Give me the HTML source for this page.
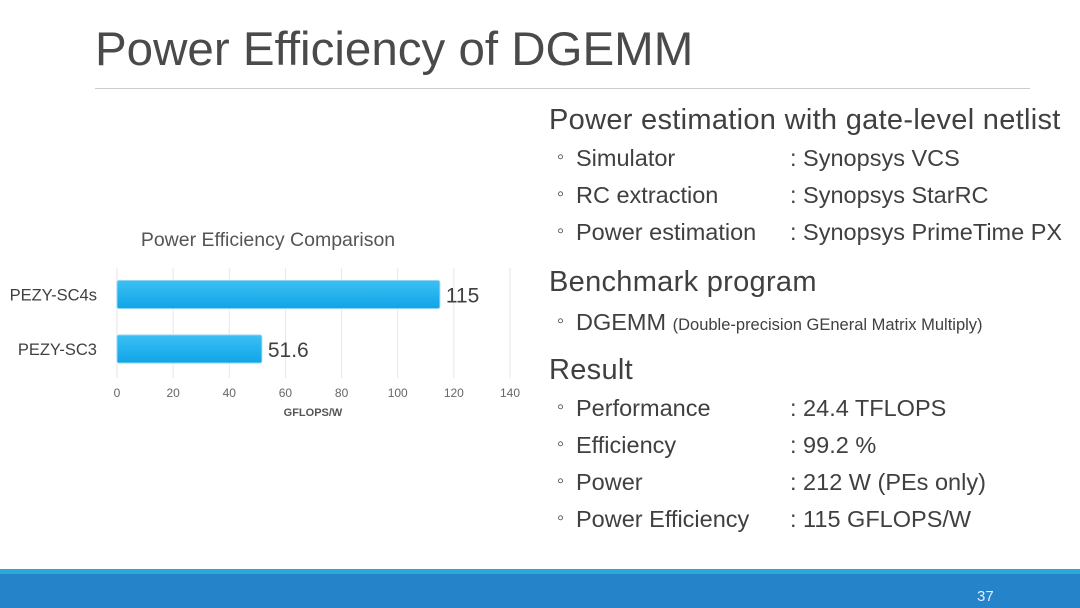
<!DOCTYPE html>
<html><head><meta charset="utf-8"><style>
body{margin:0;width:1080px;height:608px;background:#fff;position:relative;overflow:hidden;font-family:"Liberation Sans",sans-serif;color:#404040}
.a{position:absolute;white-space:nowrap}
.h{font-size:29px;left:549px;letter-spacing:0.3px}
.s{font-size:23.5px}
.b{left:557px;font-size:20px}
.t{left:576px}
.c{left:790px}
</style></head><body>
<div class="a" style="left:95px;top:22px;font-size:47.5px;color:#4a4a4a">Power Efficiency of DGEMM</div>
<div class="a" style="left:95px;top:88px;width:935px;height:1px;background:#ccc"></div>

<div class="a h" style="top:104px">Power estimation with gate-level netlist</div>
<div class="a b" style="top:146px">◦</div><div class="a s t" style="top:145px">Simulator</div><div class="a s c" style="top:145px">: Synopsys VCS</div>
<div class="a b" style="top:183px">◦</div><div class="a s t" style="top:182px">RC extraction</div><div class="a s c" style="top:182px">: Synopsys StarRC</div>
<div class="a b" style="top:220px">◦</div><div class="a s t" style="top:219px">Power estimation</div><div class="a s c" style="top:219px">: Synopsys PrimeTime PX</div>

<div class="a h" style="top:266px">Benchmark program</div>
<div class="a b" style="top:310px">◦</div><div class="a s t" style="top:309px">DGEMM <span style="font-size:16.5px">(Double-precision GEneral Matrix Multiply)</span></div>

<div class="a h" style="top:354px">Result</div>
<div class="a b" style="top:396px">◦</div><div class="a s t" style="top:395px">Performance</div><div class="a s c" style="top:395px">: 24.4 TFLOPS</div>
<div class="a b" style="top:433px">◦</div><div class="a s t" style="top:432px">Efficiency</div><div class="a s c" style="top:432px">: 99.2 %</div>
<div class="a b" style="top:470px">◦</div><div class="a s t" style="top:469px">Power</div><div class="a s c" style="top:469px">: 212 W (PEs only)</div>
<div class="a b" style="top:507px">◦</div><div class="a s t" style="top:506px">Power Efficiency</div><div class="a s c" style="top:506px">: 115 GFLOPS/W</div>

<svg class="a" style="left:0;top:0" width="540" height="430">
<text x="268" y="246" text-anchor="middle" font-size="19.5" fill="#555">Power Efficiency Comparison</text>
<defs><linearGradient id="g" x1="0" x2="0" y1="0" y2="1"><stop offset="0" stop-color="#3cc0f5"/><stop offset="1" stop-color="#10a4e6"/></linearGradient></defs>
<g id="grid"></g><g id="bars"></g>
<text x="313" y="416" text-anchor="middle" font-size="11" font-weight="bold" fill="#555">GFLOPS/W</text>
</svg>

<div class="a" style="left:0;top:569px;width:1080px;height:5px;background:#2aa8dc"></div>
<div class="a" style="left:0;top:574px;width:1080px;height:34px;background:#2583c9"></div>
<div class="a" style="left:977px;top:588px;font-size:15px;color:#dfefff">37</div>
<script>
const categories=["PEZY-SC4s","PEZY-SC3"];
const values=[115,51.6];
const valueLabels=["115","51.6"];
const ticks=[0,20,40,60,80,100,120,140];
const NS="http://www.w3.org/2000/svg";
const x=v=>117+v*(393/140);
const yc=i=>294.5+i*54.5;
const grid=document.getElementById('grid'),bars=document.getElementById('bars');
function mk(p,t,a){const e=document.createElementNS(NS,t);for(const k in a)e.setAttribute(k,a[k]);p.appendChild(e);return e;}
ticks.forEach(t=>{
 const l=mk(grid,'line',{x1:x(t),x2:x(t),y1:268,y2:378,stroke:'#e6e6e6'});
 
 
 const tx=mk(grid,'text',{x:x(t),y:397,'text-anchor':'middle','font-size':12,fill:'#666'});tx.textContent=t;
 
 
});
categories.forEach((c,i)=>{
 const r=mk(bars,'rect',{x:x(0),y:yc(i)-14,width:x(values[i])-x(0),height:28,rx:2,fill:'url(#g)',stroke:'#8fd3f3'});
 
 
 const l=mk(bars,'text',{x:97,y:yc(i)+6,'text-anchor':'end','font-size':16.5,fill:'#404040'});l.textContent=c;
 
 
 const v=mk(bars,'text',{x:x(values[i])+6,y:yc(i)+8,'font-size':21,fill:'#404040'});v.textContent=valueLabels[i];
 
 
});
</script>
</body></html>
